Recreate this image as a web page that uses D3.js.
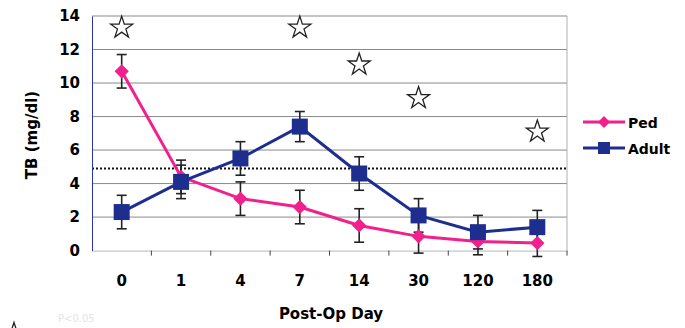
<!DOCTYPE html>
<html>
<head>
<meta charset="utf-8">
<script src="https://cdn.jsdelivr.net/npm/d3@7"></script>
<style>
  html, body { margin: 0; padding: 0; background: #fff; }
  svg { display: block; font-family: "DejaVu Sans", sans-serif; }
</style>
</head>
<body>
<svg id="chart" width="685" height="328"></svg>
<script>
// Post-operative total bilirubin (mean ± error) by group
const days = ["0", "1", "4", "7", "14", "30", "120", "180"];
const pedValues = [10.7, 4.4, 3.1, 2.6, 1.5, 0.85, 0.55, 0.45];
const pedErrors = [1.0, 1.0, 1.0, 1.0, 1.0, 1.0, 0.8, 0.8];
const adultValues = [2.3, 4.1, 5.5, 7.4, 4.6, 2.1, 1.1, 1.4];
const adultErrors = [1.0, 1.0, 1.0, 0.9, 1.0, 1.0, 1.0, 1.0];
// significance markers: day and height
const starDays = ["0", "7", "14", "30", "180"];
const starValues = [13.3, 13.3, 11.1, 9.1, 7.1];
const yTicks = [0, 2, 4, 6, 8, 10, 12, 14];
const referenceLevel = 4.9;

const svg = d3.select("#chart");
const plotLeft = 92, plotRight = 567, plotTop = 16, plotBottom = 250.6;
const font = "DejaVu Sans, sans-serif";

const x = d3.scaleBand().domain(days).range([plotLeft, plotRight]);
const y = d3.scaleLinear().domain([0, 14]).range([plotBottom, plotTop]);
const cx = d => x(d) + x.bandwidth() / 2;

const pink = "#f2208c", blue = "#1d2e8f";

// horizontal grid
svg.append("g").selectAll("line").data(yTicks.filter(t => t > 0)).join("line")
  .attr("x1", plotLeft).attr("x2", plotRight)
  .attr("y1", d => y(d)).attr("y2", d => y(d))
  .attr("stroke", "#8a8a8a").attr("stroke-width", 1);

// right border
svg.append("line").attr("x1", plotRight).attr("x2", plotRight).attr("y1", plotTop).attr("y2", plotBottom)
  .attr("stroke", "#b0b0b0");

// reference level
svg.append("line").attr("x1", plotLeft).attr("x2", plotRight)
  .attr("y1", y(referenceLevel)).attr("y2", y(referenceLevel))
  .attr("stroke", "#111").attr("stroke-width", 2).attr("stroke-dasharray", "2,2");

// x axis
const xAxis = d3.axisBottom(x).tickSize(0).tickPadding(0);
const gx = svg.append("g").attr("transform", `translate(0,${plotBottom})`).call(xAxis);
gx.select(".domain").attr("stroke", "#b8b8b8");
gx.selectAll("text").remove();
gx.selectAll(".boundary").data(d3.range(1, days.length + 1)).join("line")
  .attr("x1", i => plotLeft + i * x.step()).attr("x2", i => plotLeft + i * x.step())
  .attr("y1", 0).attr("y2", 5).attr("stroke", "#444");
svg.append("g").selectAll("text").data(days).join("text")
  .attr("x", d => cx(d)).attr("y", 286)
  .attr("text-anchor", "middle").attr("font-size", 15).attr("font-weight", "bold")
  .text(d => d);

// y axis
const yAxis = d3.axisLeft(y).tickValues(yTicks).tickSize(0).tickPadding(12);
const gy = svg.append("g").attr("transform", `translate(${plotLeft},0)`).call(yAxis);
gy.select(".domain").attr("stroke", "#2a36a8").attr("stroke-width", 1);
gy.selectAll("text").attr("font-size", 15).attr("font-weight", "bold")
  .attr("font-family", font).attr("fill", "#000");

// axis titles
svg.append("text").attr("transform", `translate(37,135) rotate(-90)`)
  .attr("text-anchor", "middle").attr("font-size", 15).attr("font-weight", "bold")
  .text("TB (mg/dl)");
svg.append("text").attr("x", 331).attr("y", 319)
  .attr("text-anchor", "middle").attr("font-size", 15).attr("font-weight", "bold")
  .text("Post-Op Day");

// error bars
function errorBars(vals, errs) {
  const g = svg.append("g").attr("stroke", "#222").attr("stroke-width", 1.6);
  vals.forEach((v, i) => {
    const xx = cx(days[i]);
    const y1 = y(v + errs[i]), y2 = y(v - errs[i]);
    g.append("line").attr("x1", xx).attr("x2", xx).attr("y1", y1).attr("y2", y2);
    g.append("line").attr("x1", xx - 5).attr("x2", xx + 5).attr("y1", y1).attr("y2", y1);
    g.append("line").attr("x1", xx - 5).attr("x2", xx + 5).attr("y1", y2).attr("y2", y2);
  });
}
errorBars(pedValues, pedErrors);
errorBars(adultValues, adultErrors);

const line = d3.line().x((d, i) => cx(days[i])).y(d => y(d));

// Ped series
svg.append("path").datum(pedValues).attr("d", line)
  .attr("fill", "none").attr("stroke", pink).attr("stroke-width", 3);
svg.append("g").selectAll("path").data(pedValues).join("path")
  .attr("d", d3.symbol(d3.symbolDiamond2, 130)())
  .attr("transform", (d, i) => `translate(${cx(days[i])},${y(d)})`)
  .attr("fill", pink);

// Adult series
svg.append("path").datum(adultValues).attr("d", line)
  .attr("fill", "none").attr("stroke", blue).attr("stroke-width", 3);
svg.append("g").selectAll("rect").data(adultValues).join("rect")
  .attr("x", (d, i) => cx(days[i]) - 8).attr("y", d => y(d) - 8)
  .attr("width", 16).attr("height", 16)
  .attr("fill", blue);

// significance stars
const star = d3.symbol(d3.symbolStar, 150);
svg.append("g").selectAll("path").data(starValues).join("path")
  .attr("d", star())
  .attr("transform", (d, i) => `translate(${cx(starDays[i])},${y(d)})`)
  .attr("fill", "#fff").attr("stroke", "#222").attr("stroke-width", 1.3);

// footnote marker
svg.append("path").attr("d", star())
  .attr("transform", "translate(14,334)")
  .attr("fill", "#fff").attr("stroke", "#222").attr("stroke-width", 1.3);
svg.append("text").attr("x", 58).attr("y", 322).attr("font-size", 10)
  .attr("fill", "#e4e4e4").text("P<0.05");

// legend
const legend = [{ name: "Ped", color: pink, shape: "diamond", yy: 122 },
                { name: "Adult", color: blue, shape: "square", yy: 148 }];
const lg = svg.append("g");
legend.forEach(l => {
  lg.append("line").attr("x1", 583).attr("x2", 625).attr("y1", l.yy).attr("y2", l.yy)
    .attr("stroke", l.color).attr("stroke-width", 3);
  if (l.shape === "diamond") {
    lg.append("path").attr("d", d3.symbol(d3.symbolDiamond2, 90)())
      .attr("transform", `translate(604,${l.yy})`).attr("fill", l.color);
  } else {
    lg.append("rect").attr("x", 598).attr("y", l.yy - 6).attr("width", 12).attr("height", 12)
      .attr("fill", l.color);
  }
  lg.append("text").attr("x", 628).attr("y", l.yy + 5.5)
    .attr("font-size", 14).attr("font-weight", "bold").text(l.name);
});
</script>
</body>
</html>
